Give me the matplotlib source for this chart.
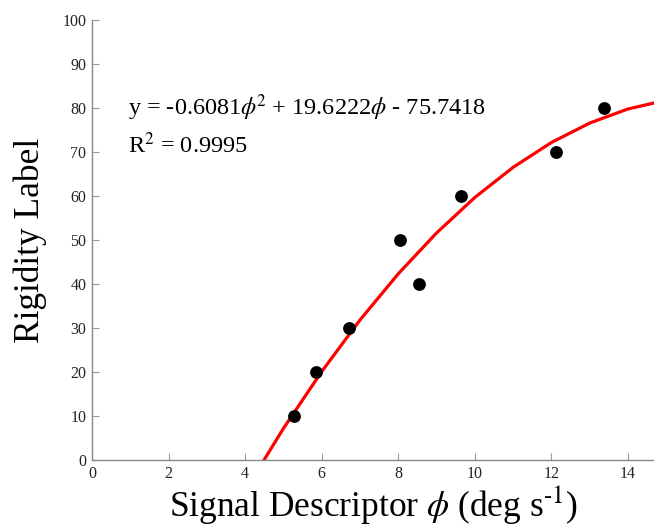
import matplotlib
matplotlib.use("Agg")
import matplotlib.pyplot as plt

plt.rcParams['font.family'] = ['Liberation Serif', 'DejaVu Serif']
plt.rcParams['mathtext.fontset'] = 'stix'

# measured points
phi = [5.28, 5.85, 6.71, 8.04, 8.54, 9.64, 12.12, 13.37]
rigidity = [10, 20, 30, 50, 40, 60, 70, 80]

# fitted curve as drawn (polyline)
fit_x = [4, 5, 6, 7, 8, 9, 10, 11, 12, 13, 14, 15]
fit_y = [-6.98, 7.17, 20.10, 31.82, 42.32, 51.60, 59.67, 66.52, 72.16, 76.58, 79.78, 81.77]

xticks = [0, 2, 4, 6, 8, 10, 12, 14]
yticks = [0, 10, 20, 30, 40, 50, 60, 70, 80, 90, 100]

fig = plt.figure(figsize=(6.54, 5.27), dpi=100)
ax = fig.add_axes([92/654, 1-460/527, 1-92/654, (460-20)/527])
ax.plot(fit_x, fit_y, color='#ff0000', lw=2.3, zorder=2)
ax.scatter(phi, rigidity, s=85, color='black', zorder=3, linewidths=0)

ax.set_xlim(0, 14.68)
ax.set_ylim(0, 100)
ax.set_xticks(xticks)
ax.set_yticks(yticks)
for s in ['top', 'right']:
    ax.spines[s].set_visible(False)
for s in ['left', 'bottom']:
    ax.spines[s].set_color('#888888')
    ax.spines[s].set_linewidth(1.0)
ax.tick_params(direction='in', length=5, color='#999999', labelsize=11.5, labelcolor='#222222', pad=4)

ax.text(0.94, 80, r'y = -0.6081$\phi$$^2$ + 19.6222$\phi$ - 75.7418', fontsize=17.5, va='center', ha='left')
ax.text(0.94, 71.6, r'R$^2$ = 0.9995', fontsize=17.5, va='center', ha='left')

ax.set_xlabel(r'Signal Descriptor $\phi$ (deg s$^{\text{-1}}$)', fontsize=25.5, labelpad=2)
ax.set_ylabel('Rigidity Label', fontsize=25.5, labelpad=11)

fig.savefig('out.png', dpi=100)
